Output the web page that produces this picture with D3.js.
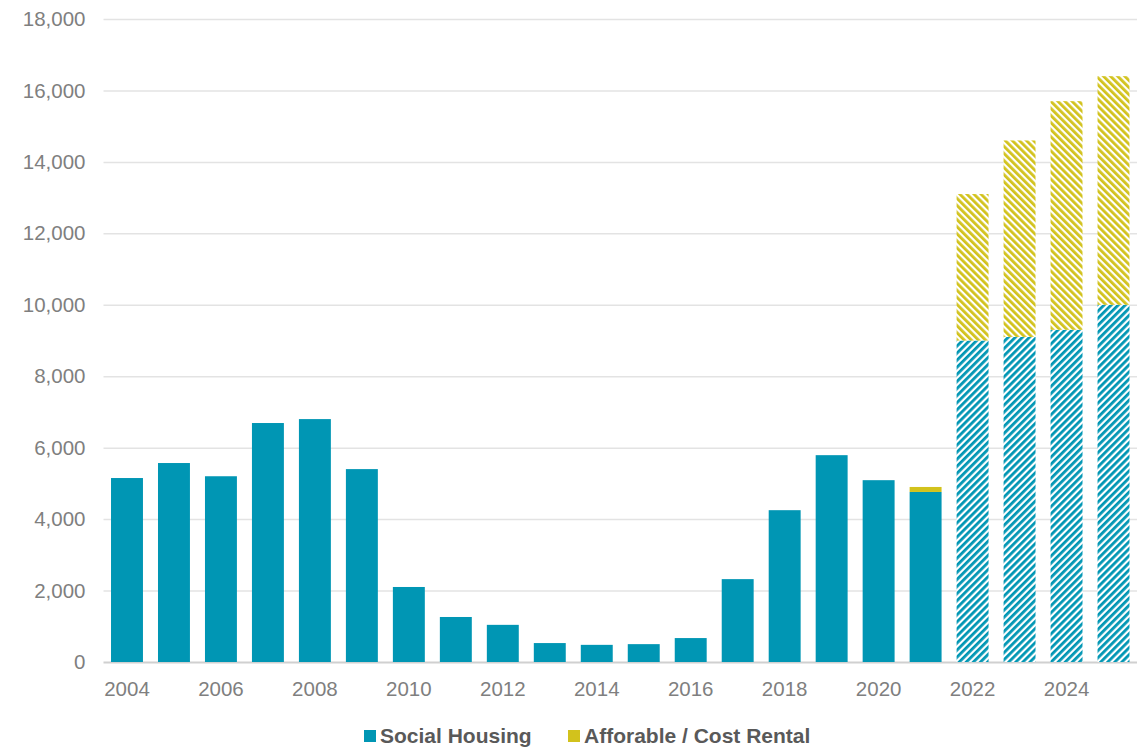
<!DOCTYPE html>
<html>
<head>
<meta charset="utf-8">
<script src="https://cdn.jsdelivr.net/npm/d3@7/dist/d3.min.js"></script>
<style>
  html, body { margin: 0; padding: 0; background: #fff; }
  svg { display: block; font-family: "Liberation Sans", Arial, sans-serif; }
</style>
</head>
<body>
<svg id="chart" width="1137" height="747"></svg>
<script>
// Annual delivery, 2004–2021 actual, 2022–2025 targets
const years = d3.range(2004, 2026);
const socialHousing = [5150, 5570, 5200, 6690, 6800, 5400, 2100, 1260, 1040, 530,
                       480, 500, 670, 2320, 4250, 5790, 5090, 4760,
                       9000, 9100, 9300, 10000];
const affordableCostRental = [0, 0, 0, 0, 0, 0, 0, 0, 0, 0,
                              0, 0, 0, 0, 0, 0, 0, 140,
                              4100, 5500, 6400, 6400];
const projected = [false, false, false, false, false, false, false, false, false, false,
                   false, false, false, false, false, false, false, false,
                   true, true, true, true];
const yTicks = [0, 2000, 4000, 6000, 8000, 10000, 12000, 14000, 16000, 18000];
const xTickYears = [2004, 2006, 2008, 2010, 2012, 2014, 2016, 2018, 2020, 2022, 2024];
const seriesNames = ["Social Housing", "Afforable / Cost Rental"];
const seriesColors = ["#0096b4", "#d2c21c"];

const svg = d3.select("#chart");
const margin = { left: 103.5, right: 0, top: 19, bottom: 85 };
const W = 1137, H = 747;

const x = d3.scaleBand()
  .domain(years)
  .range([margin.left, W - margin.right])
  .paddingInner(0.32)
  .paddingOuter(0.16);

const y = d3.scaleLinear()
  .domain([0, 18000])
  .range([H - margin.bottom, margin.top]);

// Hatch patterns for projected years
const defs = svg.append("defs");
function hatch(id, color, angle) {
  const s = 5;
  const p = defs.append("pattern")
    .attr("id", id)
    .attr("patternUnits", "userSpaceOnUse")
    .attr("width", s).attr("height", s)
    .attr("patternTransform", `rotate(${angle})`);
  p.append("rect").attr("width", s).attr("height", s).attr("fill", "#fff");
  p.append("rect").attr("width", 2.8).attr("height", s).attr("fill", color);
}
hatch("hatch-social", seriesColors[0], 45);
hatch("hatch-afford", seriesColors[1], -45);

// Gridlines
const yAxis = d3.axisLeft(y)
  .tickValues(yTicks)
  .tickSize(-(W - margin.left - margin.right))
  .tickPadding(18)
  .tickFormat(d3.format(","));
const gy = svg.append("g")
  .attr("transform", `translate(${margin.left},0)`)
  .call(yAxis);
gy.select(".domain").remove();
gy.selectAll(".tick line")
  .attr("stroke", d => d === 0 ? "#d0d0d0" : "#e3e3e3")
  .attr("stroke-width", d => d === 0 ? 2 : 1.5);
gy.selectAll(".tick text")
  .attr("fill", "#7f7f7f")
  .style("font-size", "20.5px");

// Stacked bars
const stackData = years.map((yr, i) => ({
  year: yr, social: socialHousing[i], afford: affordableCostRental[i], proj: projected[i]
}));
const stack = d3.stack().keys(["social", "afford"])(stackData);

stack.forEach((layer, li) => {
  svg.append("g")
    .selectAll("rect")
    .data(layer.filter(d => d[1] - d[0] > 0))
    .join("rect")
    .attr("x", d => x(d.data.year))
    .attr("width", x.bandwidth())
    .attr("y", d => y(d[1]))
    .attr("height", d => y(d[0]) - y(d[1]))
    .attr("fill", d => d.data.proj
      ? (li === 0 ? "url(#hatch-social)" : "url(#hatch-afford)")
      : seriesColors[li]);
});

// X axis labels
const xAxis = d3.axisBottom(x)
  .tickValues(xTickYears)
  .tickSize(0)
  .tickPadding(19)
  .tickFormat(d3.format("d"));
const gx = svg.append("g")
  .attr("transform", `translate(0,${y(0)})`)
  .call(xAxis);
gx.select(".domain").remove();
gx.selectAll(".tick text")
  .attr("fill", "#7f7f7f")
  .style("font-size", "20.5px");

// Legend
const legend = svg.append("g").attr("transform", "translate(0,736)");
const legendX = [364, 568];
seriesNames.forEach((name, i) => {
  const g = legend.append("g").attr("transform", `translate(${legendX[i]},0)`);
  g.append("rect").attr("x", 0).attr("y", -6).attr("width", 12).attr("height", 12)
    .attr("fill", seriesColors[i]);
  g.append("text").attr("x", 16).attr("y", 0).attr("dy", "0.35em")
    .attr("fill", "#595959")
    .style("font-size", "21px").style("font-weight", "bold")
    .text(name);
});
</script>
</body>
</html>
